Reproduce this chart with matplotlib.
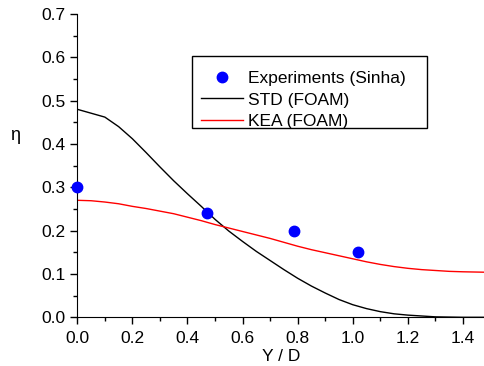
import matplotlib.pyplot as plt
from matplotlib.patches import Rectangle

plt.rcParams['font.family'] = ['Liberation Sans', 'DejaVu Sans']

# Experimental data (Sinha)
exp_x = [0.0, 0.47, 0.785, 1.02]
exp_eta = [0.30, 0.24, 0.20, 0.15]

# STD k-epsilon (FOAM)
std_x = [0.0, 0.05, 0.1, 0.15, 0.2, 0.25, 0.3, 0.35, 0.4, 0.45, 0.5, 0.55, 0.6, 0.65,
         0.7, 0.75, 0.8, 0.85, 0.9, 0.95, 1.0, 1.05, 1.1, 1.15, 1.2, 1.25, 1.3, 1.4, 1.48]
std_eta = [0.48, 0.471, 0.462, 0.44, 0.412, 0.38, 0.347, 0.315, 0.285, 0.256, 0.226,
           0.199, 0.175, 0.152, 0.131, 0.11, 0.09, 0.072, 0.056, 0.041, 0.029, 0.02,
           0.013, 0.008, 0.005, 0.003, 0.001, 0.0, 0.0]

# KEA (FOAM)
kea_x = [0.0, 0.05, 0.1, 0.15, 0.2, 0.25, 0.3, 0.35, 0.4, 0.45, 0.5, 0.55, 0.6, 0.65,
         0.7, 0.75, 0.8, 0.85, 0.9, 0.95, 1.0, 1.05, 1.1, 1.15, 1.2, 1.25, 1.3, 1.35,
         1.4, 1.48]
kea_eta = [0.27, 0.269, 0.266, 0.262, 0.256, 0.251, 0.245, 0.239, 0.231, 0.223, 0.214,
           0.206, 0.198, 0.19, 0.182, 0.173, 0.164, 0.156, 0.149, 0.142, 0.135, 0.128,
           0.122, 0.117, 0.113, 0.11, 0.108, 0.106, 0.105, 0.104]

W, H = 485, 366
fig = plt.figure(figsize=(W / 100, H / 100), dpi=100)
ax = fig.add_axes([0.1594, 0.1331, 0.8406, 0.8287])

ax.plot(exp_x, exp_eta, 'o', color='blue', markersize=7.5, clip_on=False,
        zorder=5, label='Experiments (Sinha)')
ax.plot(std_x, std_eta, color='black', lw=1.0, label='STD (FOAM)')
ax.plot(kea_x, kea_eta, color='red', lw=1.0, label='KEA (FOAM)')

ax.set_xlim(0, 1.48)
ax.set_ylim(0, 0.7)
ax.set_xticks([0.0, 0.2, 0.4, 0.6, 0.8, 1.0, 1.2, 1.4])
ax.set_yticks([0.0, 0.1, 0.2, 0.3, 0.4, 0.5, 0.6, 0.7])
ax.set_xticks([0.1, 0.3, 0.5, 0.7, 0.9, 1.1, 1.3], minor=True)
ax.set_yticks([0.05, 0.15, 0.25, 0.35, 0.45, 0.55, 0.65], minor=True)
ax.tick_params(which='major', direction='out', length=5, width=1, labelsize=12.5)
ax.tick_params(axis='x', which='major', pad=5)
ax.tick_params(which='minor', direction='out', length=3, width=1)

for s in ['top', 'right']:
    ax.spines[s].set_visible(False)

ax.set_xlabel('Y / D', fontsize=12.5, labelpad=2)
fig.text(15 / W, 1 - 136 / H, '\u03b7', fontsize=13, ha='center', va='center')

# legend without its own frame; box drawn separately to match the reference padding
fig.legend(loc='upper left', bbox_to_anchor=(201 / W, 1 - 71 / H),
           borderaxespad=0, frameon=False, fontsize=12.5, handlelength=2.4,
           labelspacing=0.36, handletextpad=0.3, borderpad=0)
fig.add_artist(Rectangle((192 / W, 1 - 128 / H), 235 / W, 72 / H,
                         transform=fig.transFigure, facecolor='white',
                         edgecolor='black', lw=1.0, zorder=1))

fig.savefig('out.png', dpi=100)
